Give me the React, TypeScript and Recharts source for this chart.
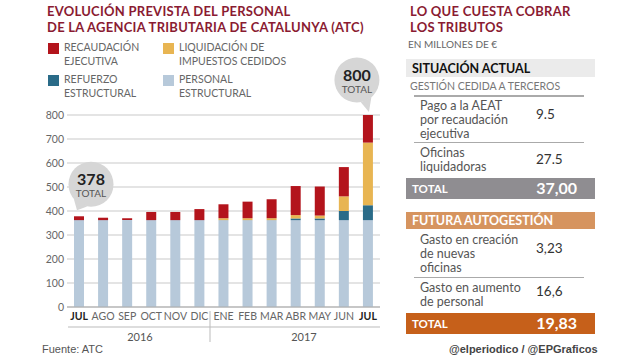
import { BarChart, Bar, XAxis, YAxis, CartesianGrid, LabelList } from 'recharts';

const FONT = 'Lato, "Open Sans", sans-serif';

const meses = ['JUL', 'AGO', 'SEP', 'OCT', 'NOV', 'DIC', 'ENE', 'FEB', 'MAR', 'ABR', 'MAY', 'JUN', 'JUL'];
const personalEstructural = [362, 362, 362, 362, 362, 362, 362, 362, 362, 362, 362, 362, 362];
const refuerzoEstructural = [0, 0, 0, 0, 0, 0, 0, 0, 0, 7, 7, 38, 62];
const liquidacionImpuestos = [0, 0, 0, 0, 0, 0, 8, 8, 8, 14, 12, 61, 261];
const recaudacionEjecutiva = [16, 10, 8, 34, 34, 46, 58, 69, 79, 121, 121, 122, 115];
const yTicks = [0, 100, 200, 300, 400, 500, 600, 700, 800];
const burbujas = [0, 12];

const series = [
  { key: 'personal', name: ['PERSONAL', 'ESTRUCTURAL'], color: '#b7c9da' },
  { key: 'refuerzo', name: ['REFUERZO', 'ESTRUCTURAL'], color: '#2a6b88' },
  { key: 'liquidacion', name: ['LIQUIDACIÓN DE', 'IMPUESTOS CEDIDOS'], color: '#e8b552' },
  { key: 'recaudacion', name: ['RECAUDACIÓN', 'EJECUTIVA'], color: '#b3141c' },
];

const data = meses.map((mes, i) => ({
  mes,
  personal: personalEstructural[i],
  refuerzo: refuerzoEstructural[i],
  liquidacion: liquidacionImpuestos[i],
  recaudacion: recaudacionEjecutiva[i],
  total: personalEstructural[i] + refuerzoEstructural[i] + liquidacionImpuestos[i] + recaudacionEjecutiva[i],
}));

// orden de la leyenda: dos columnas
const leyenda = [series[3], series[2], series[1], series[0]];

function MesTick(props: any) {
  const { x, y, payload, index } = props;
  const bold = index === 0 || index === meses.length - 1;
  return (
    <text
      x={x}
      y={y}
      dy="0.71em"
      textAnchor="middle"
      fontSize={10.5}
      fontFamily={FONT}
      fontWeight={bold ? 700 : 400}
      fill={bold ? '#222' : '#666'}
    >
      {payload.value}
    </text>
  );
}

function Burbuja(props: any) {
  const { x, y, width, index } = props;
  if (!burbujas.includes(index)) return null;
  const mid = Number(x) + Number(width) / 2;
  const top = Number(y);
  const first = index === 0;
  const cx = first ? mid + 12 : mid - 11;
  const cy = first ? top - 32 : top - 35;
  const r = 22.5;
  const pt = (deg: number) => {
    const a = (deg * Math.PI) / 180;
    return `${cx + r * Math.cos(a)},${cy + r * Math.sin(a)}`;
  };
  const tail = first
    ? `${pt(100)} ${pt(140)} ${mid - 2},${top - 6}`
    : `${pt(50)} ${pt(80)} ${mid + 1},${top - 3}`;
  return (
    <g>
      <circle cx={cx} cy={cy} r={r} fill="#d6d6d6" />
      <polygon points={tail} fill="#d6d6d6" />
      <text x={cx} y={cy + 1} textAnchor="middle" fontFamily={FONT} fontWeight={700} fontSize={16} fill="#222">
        {data[index].total}
      </text>
      <text x={cx} y={cy + 12.5} textAnchor="middle" fontFamily={FONT} fontSize={10} fill="#555">
        TOTAL
      </text>
    </g>
  );
}

const abs = (left: number, top: number, extra: any = {}) => ({
  position: 'absolute' as const,
  left,
  top,
  ...extra,
});

const titulo = { fontFamily: FONT, fontWeight: 700, fontSize: 13, color: '#8a1b32', lineHeight: '15.6px', letterSpacing: 0.25, whiteSpace: 'nowrap' as const };
const cuerpo = { fontFamily: FONT, fontSize: 12.5, color: '#555', lineHeight: '14px' };
const valor = { fontFamily: FONT, fontSize: 13.5, color: '#333' };

export default function App() {
  return (
    <div style={{ position: 'absolute', left: 0, top: 0, width: 640, height: 360, background: '#fff', overflow: 'hidden' }}>
      <div style={abs(47, 4, titulo)}>EVOLUCIÓN PREVISTA DEL PERSONAL</div>
      <div style={abs(47, 19.6, titulo)}>DE LA AGENCIA TRIBUTARIA DE CATALUNYA (ATC)</div>

      {leyenda.map((s, i) => {
        const col = i % 2;
        const row = Math.floor(i / 2);
        const left = col === 0 ? 48 : 163;
        const top = row === 0 ? 41 : 73;
        return (
          <div key={s.key}>
            <div style={abs(left, top + 2, { width: 11, height: 11, background: s.color })} />
            <div style={abs(left + 16, top, { fontFamily: FONT, fontSize: 10.5, color: '#666', lineHeight: '13.5px', whiteSpace: 'nowrap' })}>
              {s.name[0]}
              <br />
              {s.name[1]}
            </div>
          </div>
        );
      })}

      <div style={abs(0, 40)}>
        <BarChart width={400} height={300} data={data} margin={{ top: 75, right: 20, bottom: 3, left: 27 }} barSize={10}>
          <CartesianGrid vertical={false} stroke="#c9c9c9" />
          <XAxis
            dataKey="mes"
            tick={<MesTick />}
            tickLine={false}
            tickSize={0}
            tickMargin={6}
            height={30}
            interval={0}
            axisLine={{ stroke: '#aaa' }}
          />
          <YAxis
            domain={[0, 800]}
            ticks={yTicks}
            width={40}
            tickLine={false}
            axisLine={false}
            tickSize={0}
            tickMargin={3}
            tick={{ fontSize: 10.5, fill: '#666', fontFamily: FONT }}
          />
          {series.map((s) => (
            <Bar key={s.key} dataKey={s.key} stackId="a" fill={s.color} isAnimationActive={false}>
              {s.key === 'recaudacion' && <LabelList dataKey="total" content={<Burbuja />} />}
            </Bar>
          ))}
        </BarChart>
      </div>

      <svg style={abs(0, 0)} width={640} height={360} pointerEvents="none">
        <line x1={68} x2={380} y1={327} y2={327} stroke="#bbb" />
        <line x1={210} x2={210} y1={311} y2={342} stroke="#bbb" />
        <text x={140} y={341} textAnchor="middle" fontFamily={FONT} fontSize={11} fill="#555">2016</text>
        <text x={304} y={341} textAnchor="middle" fontFamily={FONT} fontSize={11} fill="#555">2017</text>
      </svg>

      <div style={abs(42, 343, { fontFamily: '"Liberation Sans", Arial, sans-serif', fontSize: 11, color: '#555' })}>Fuente: ATC</div>

      {/* panel derecho */}
      <div style={abs(410, 4, titulo)}>LO QUE CUESTA COBRAR</div>
      <div style={abs(410, 19.6, titulo)}>LOS TRIBUTOS</div>
      <div style={abs(408, 38, { fontFamily: FONT, fontSize: 10, color: '#666' })}>EN MILLONES DE €</div>

      <div style={abs(406, 59, { width: 189, height: 18, background: '#ebebeb' })} />
      <div style={abs(412, 61, { fontFamily: FONT, fontWeight: 700, fontSize: 12.5, color: '#111' })}>SITUACIÓN ACTUAL</div>
      <div style={abs(410, 80, { fontFamily: FONT, fontSize: 10.5, color: '#777' })}>GESTIÓN CEDIDA A TERCEROS</div>
      <div style={abs(414, 95, { width: 170, height: 1.5, background: '#aaa' })} />

      <div style={abs(420, 99, cuerpo)}>
        Pago a la AEAT
        <br />
        por recaudación
        <br />
        ejecutiva
      </div>
      <div style={abs(536, 106, valor)}>9.5</div>
      <div style={abs(414, 142, { width: 170, height: 1, background: '#aaa' })} />
      <div style={abs(420, 146, cuerpo)}>
        Oficinas
        <br />
        liquidadoras
      </div>
      <div style={abs(536, 151, valor)}>27.5</div>

      <div style={abs(406, 178, { width: 189, height: 21, background: '#8f8d91' })} />
      <div style={abs(412, 182, { fontFamily: FONT, fontWeight: 700, fontSize: 11.5, color: '#fff' })}>TOTAL</div>
      <div style={abs(520, 178, { width: 57, textAlign: 'right', fontFamily: FONT, fontWeight: 700, fontSize: 16, color: '#fff' })}>37,00</div>

      <div style={abs(406, 212, { width: 189, height: 17, background: '#d6945f' })} />
      <div style={abs(412, 213, { fontFamily: FONT, fontWeight: 700, fontSize: 12.5, color: '#fff' })}>FUTURA AUTOGESTIÓN</div>

      <div style={abs(420, 233, cuerpo)}>
        Gasto en creación
        <br />
        de nuevas
        <br />
        oficinas
      </div>
      <div style={abs(536, 240, valor)}>3,23</div>
      <div style={abs(414, 277, { width: 170, height: 1, background: '#aaa' })} />
      <div style={abs(420, 281, cuerpo)}>
        Gasto en aumento
        <br />
        de personal
      </div>
      <div style={abs(536, 283, valor)}>16,6</div>

      <div style={abs(406, 313, { width: 189, height: 21, background: '#c6601a' })} />
      <div style={abs(412, 317, { fontFamily: FONT, fontWeight: 700, fontSize: 11.5, color: '#fff' })}>TOTAL</div>
      <div style={abs(520, 313, { width: 57, textAlign: 'right', fontFamily: FONT, fontWeight: 700, fontSize: 16, color: '#fff' })}>19,83</div>

      <div style={abs(449, 343, { fontFamily: '"Liberation Sans", Arial, sans-serif', fontWeight: 700, fontSize: 11, color: '#444' })}>
        @elperiodico / @EPGraficos
      </div>
    </div>
  );
}
